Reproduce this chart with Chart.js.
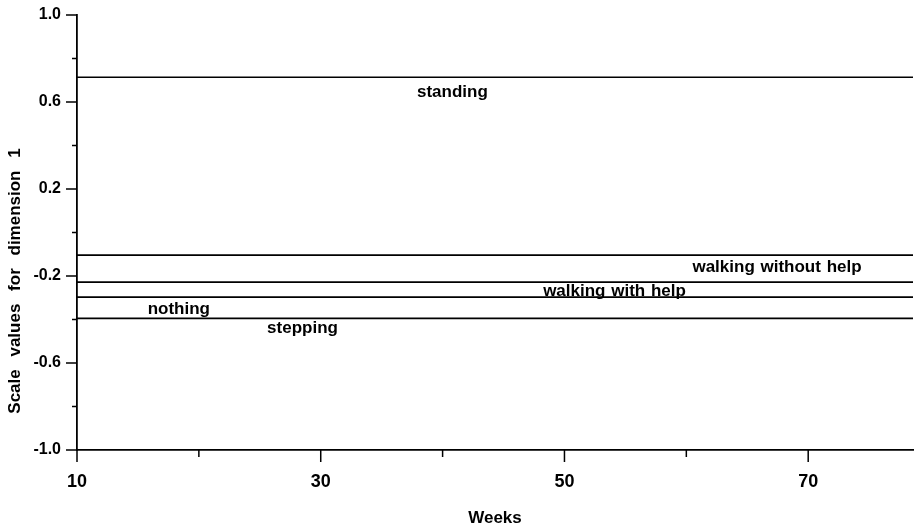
<!DOCTYPE html>
<html><head><meta charset="utf-8">
<script src="https://cdn.jsdelivr.net/npm/chart.js@4/dist/chart.umd.min.js"></script>
<style>html,body{margin:0;padding:0;background:#fff}#wrap{width:917px;height:532px;position:relative}</style>
</head><body><div id="wrap"><canvas id="c"></canvas></div>
<script>
// ---- data ----
const seriesNames = ['standing', 'walking without help', 'walking with help', 'nothing', 'stepping'];
const seriesValues = [0.714, -0.104, -0.228, -0.297, -0.395];
const weekRange = [10, 78.6];
const labelWeeks = [37.9, 60.5, 48.25, 15.8, 25.6];
const labelValues = [0.646, -0.162, -0.272, -0.355, -0.442];
const xTickLabels = [10, 30, 50, 70];
const xMinorTicks = [20, 40, 60];
const yTickLabels = [1.0, 0.6, 0.2, -0.2, -0.6, -1.0];
const yMinorTicks = [0.8, 0.4, 0.0, -0.4, -0.8];
const xTitle = 'Weeks';
const yTitle = 'Scale values for dimension 1';

const FONT = '"Liberation Sans", Arial, sans-serif';

const datasets = seriesNames.map((name, i) => ({
  label: name,
  data: weekRange.map(w => ({x: w, y: seriesValues[i]})),
  borderColor: '#000',
  borderWidth: 1.6,
  pointRadius: 0,
  fill: false,
  tension: 0
}));

const decorPlugin = {
  id: 'decor',
  afterDraw(chart) {
    const ctx = chart.ctx;
    const xs = chart.scales.x, ys = chart.scales.y;
    const ax = xs.getPixelForValue(weekRange[0]);
    const ay = ys.getPixelForValue(-1);
    ctx.save();
    ctx.strokeStyle = '#000';
    ctx.lineWidth = 1.5;
    ctx.beginPath();
    xTickLabels.forEach(v => { const p = xs.getPixelForValue(v); ctx.moveTo(p, ay); ctx.lineTo(p, ay + 12); });
    xMinorTicks.forEach(v => { const p = xs.getPixelForValue(v); ctx.moveTo(p, ay); ctx.lineTo(p, ay + 7); });
    yTickLabels.forEach(v => { const p = ys.getPixelForValue(v); ctx.moveTo(ax, p); ctx.lineTo(ax - 11, p); });
    yMinorTicks.forEach(v => { const p = ys.getPixelForValue(v); ctx.moveTo(ax, p); ctx.lineTo(ax - 5, p); });
    ctx.stroke();

    // series labels
    ctx.fillStyle = '#000';
    ctx.font = 'bold 17px ' + FONT;
    ctx.textAlign = 'left';
    ctx.textBaseline = 'middle';
    try { ctx.wordSpacing = '1px'; } catch (e) {}
    seriesNames.forEach((name, i) => {
      ctx.fillText(name, xs.getPixelForValue(labelWeeks[i]), ys.getPixelForValue(labelValues[i]));
    });

    // y axis title
    try { ctx.wordSpacing = '8px'; } catch (e) {}
    ctx.translate(15, 281);
    ctx.rotate(-Math.PI / 2);
    ctx.textAlign = 'center';
    ctx.fillText(yTitle, 0, 0);
    ctx.restore();
  }
};

new Chart(document.getElementById('c'), {
  type: 'line',
  data: { datasets },
  options: {
    responsive: true,
    maintainAspectRatio: false,
    animation: false,
    layout: { padding: { left: 0, right: 4, top: 15, bottom: 0 } },
    plugins: { legend: { display: false }, tooltip: { enabled: false } },
    scales: {
      x: {
        type: 'linear',
        min: weekRange[0],
        max: weekRange[1],
        afterBuildTicks: s => { s.ticks = xTickLabels.map(v => ({ value: v })); },
        afterFit: s => { s.height = 82; s.paddingLeft = 0; s.paddingRight = 0; },
        grid: { display: false, drawTicks: false },
        border: { display: true, color: '#000', width: 1.8 },
        ticks: { color: '#000', padding: 21, maxRotation: 0, font: { family: FONT, size: 18, weight: 'bold' }, callback: v => String(v) },
        title: { display: true, text: xTitle, color: '#000', padding: { top: 0, bottom: 3 }, font: { family: FONT, size: 17, weight: 'bold' } }
      },
      y: {
        type: 'linear',
        min: -1,
        max: 1,
        afterBuildTicks: s => { s.ticks = yTickLabels.map(v => ({ value: v })); },
        afterFit: s => { s.width = 77; s.paddingTop = 0; s.paddingBottom = 0; },
        grid: { display: false, drawTicks: false },
        border: { display: true, color: '#000', width: 1.8 },
        ticks: { color: '#000', padding: 16, font: { family: FONT, size: 16, weight: 'bold' }, callback: v => Number(v).toFixed(1) }
      }
    }
  },
  plugins: [decorPlugin]
});
</script>
</body></html>
